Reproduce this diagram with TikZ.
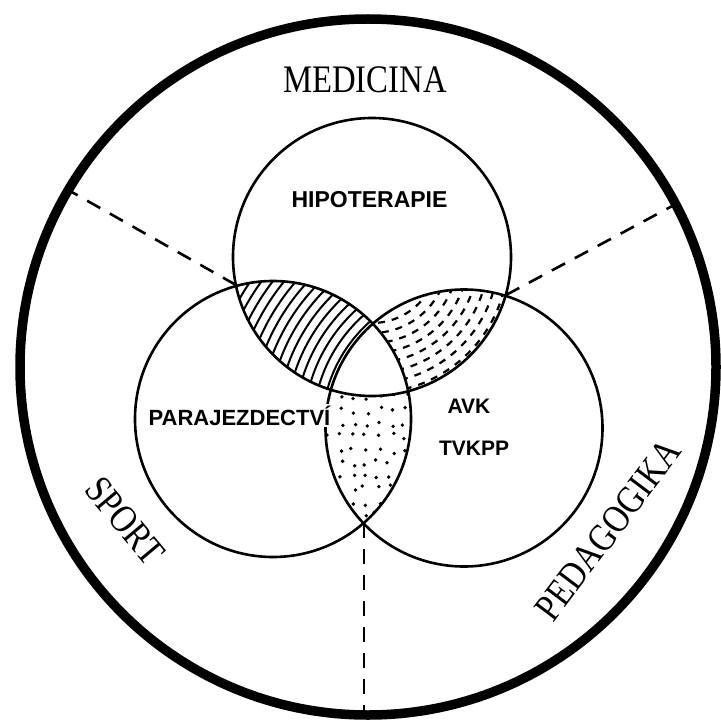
\documentclass[tikz,border=0pt]{standalone}
\usepackage{fontspec}
\setmainfont{Liberation Serif}
\newfontfamily\labfont{Liberation Sans}
\begin{document}
\begin{tikzpicture}[x=1pt,y=-1pt,
  ring/.style={line width=2.6pt},
  outerring/.style={line width=9.5pt},
  sepline/.style={line width=2.6pt, dash pattern=on 15pt off 11pt},
  hatch/.style={line width=2pt},
  dashfill/.style={line width=2.2pt, dash pattern=on 7pt off 7pt},
  field/.style={font=\fontsize{39}{39}\selectfont, inner sep=0pt},
  lab/.style={font=\labfont\bfseries\fontsize{22}{22}\selectfont, inner sep=0pt, anchor=base}]
\useasboundingbox (0,0) rectangle (720,722);
\fill[white] (0,0) rectangle (720,722);
\coordinate (O) at (368,367);
\coordinate (M) at (372,257);
\coordinate (S) at (273,419);
\coordinate (P) at (464,428);

% hatched lens: medicina & sport
\begin{scope}
  \clip (M) circle[radius=139pt];
  \clip (S) circle[radius=138pt];
  \foreach \r in {142,151,...,285} \draw[hatch] (P) circle[radius=\r pt];
\end{scope}

% dashed lens: medicina & pedagogika
\begin{scope}
  \clip (M) circle[radius=139pt];
  \clip (P) circle[radius=138.5pt];
  \foreach \r [count=\k] in {66,76,...,136}
    \draw[dashfill, dash phase=\k*5pt] (M) circle[radius=\r pt];
\end{scope}

% dotted lens: sport & pedagogika
\begin{scope}
  \clip (S) circle[radius=138pt];
  \clip (P) circle[radius=138.5pt];
  \pgfmathsetseed{11}
  \foreach \i in {0,...,7} \foreach \j in {0,...,10} {
    \pgfmathsetmacro\dx{rand*4}
    \pgfmathsetmacro\dy{rand*4}
    \fill ({326+\i*13+\dx},{398+\j*13+\dy}) circle[radius=1.9pt];
  }
\end{scope}

% common centre stays white
\begin{scope}
  \clip (M) circle[radius=139pt];
  \clip (S) circle[radius=138pt];
  \fill[white] (P) circle[radius=138.5pt];
\end{scope}

\draw[ring] (M) circle[radius=139pt];
\draw[ring] (S) circle[radius=138pt];
\draw[ring] (P) circle[radius=138.5pt];
\draw[outerring] (O) circle[radius=348pt];

\coordinate (iMS) at (236,285);
\coordinate (iMP) at (506,295);
\coordinate (iSP) at (364,523);
\coordinate (eMS) at (70,191);
\coordinate (eMP) at (676,204);
\coordinate (eSP) at (364,714);
\draw[sepline] (iMS) -- (eMS);
\draw[sepline] (iMP) -- (eMP);
\draw[sepline] (iSP) -- (eSP);

\node[field, anchor=base] (med) at (365,93) {\scalebox{0.84}[1]{MEDICINA}};
\node[field, rotate=-50] (spo) at (125,521) {\scalebox{0.84}[1]{SPORT}};
\node[field, rotate=53] (ped) at (608,530) {\scalebox{0.84}[1]{PEDAGOGIKA}};

\node[lab, font=\labfont\bfseries\fontsize{23}{23}\selectfont] (hip) at (369.5,207) {HIPOTERAPIE};
\node[lab, fill=white, inner sep=1.5pt] (par) at (239.5,425) {PARAJEZDECTVÍ};
\node[lab, font=\labfont\bfseries\fontsize{21}{21}\selectfont] (avk) at (469,413) {AVK};
\node[lab, font=\labfont\bfseries\fontsize{21}{21}\selectfont] (tvk) at (474,455) {TVKPP};
\end{tikzpicture}
\end{document}
